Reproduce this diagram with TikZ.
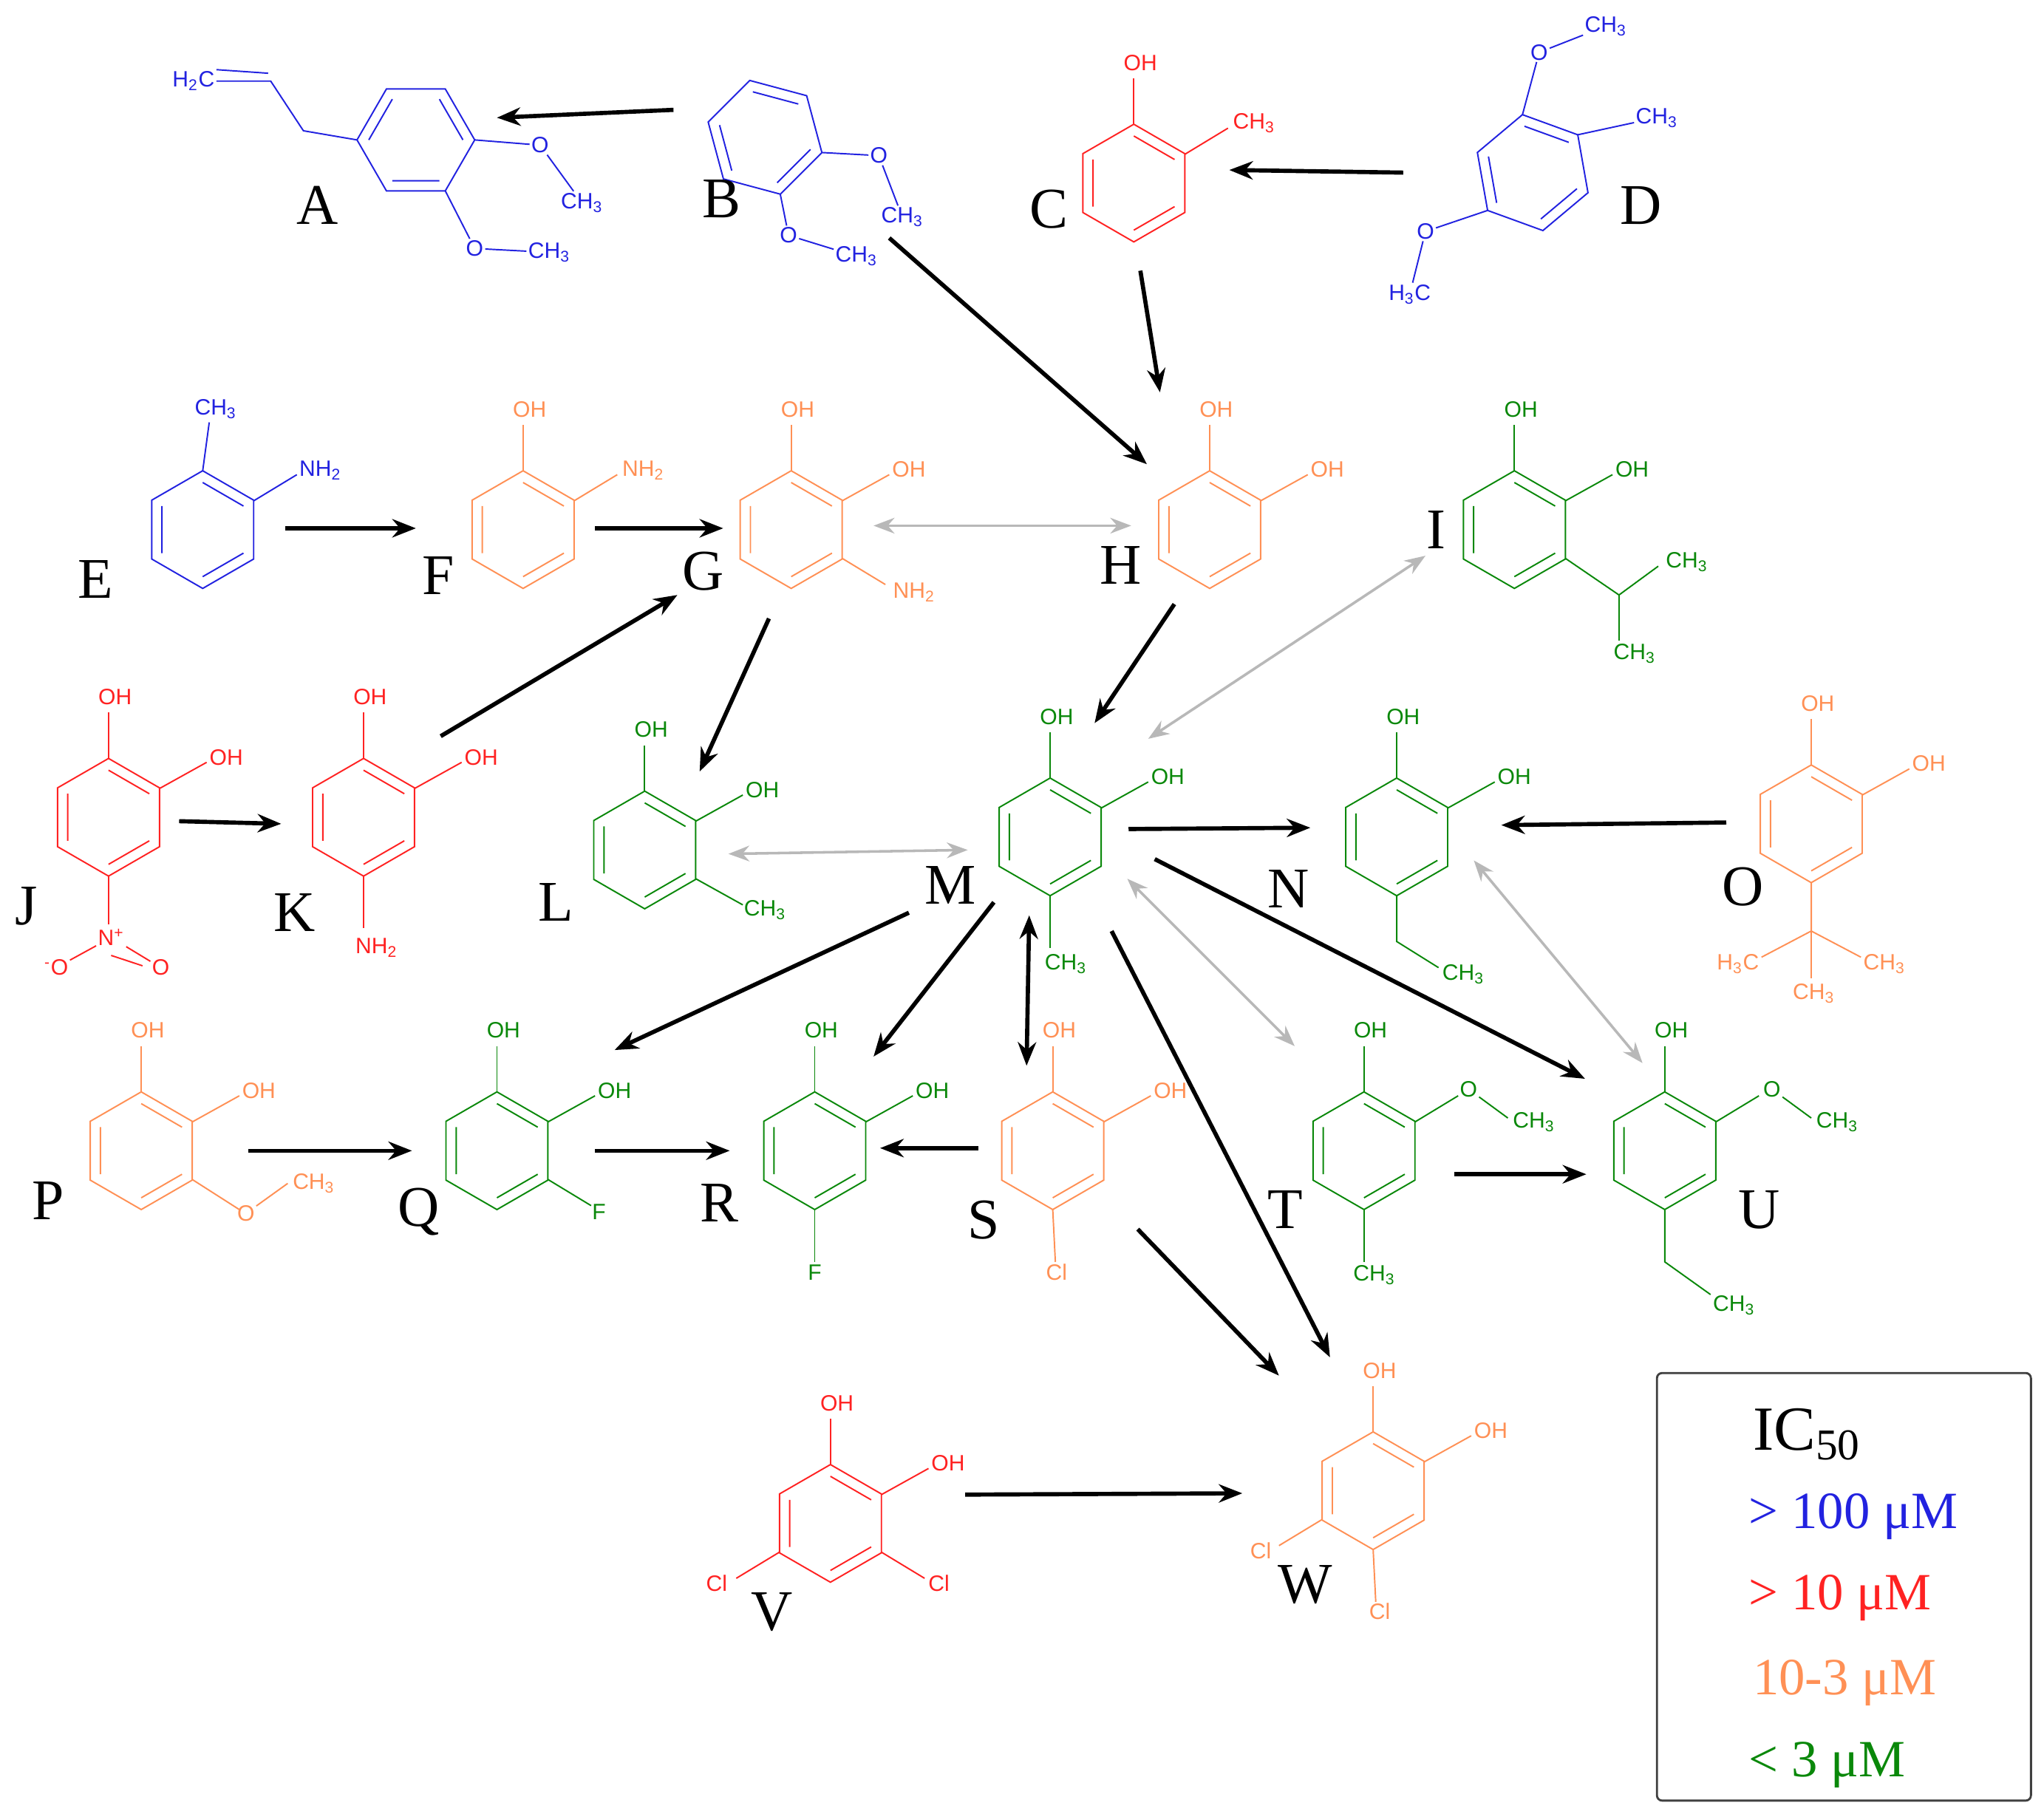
\documentclass[tikz,border=0pt]{standalone}
\usepackage{fontspec}
\setmainfont{Liberation Serif}
\setsansfont{Liberation Sans}
\usetikzlibrary{arrows.meta}
\definecolor{cB}{HTML}{2222E0}
\definecolor{cR}{HTML}{FF2222}
\definecolor{cO}{HTML}{FF9055}
\definecolor{cG}{HTML}{0A880A}
\definecolor{cGr}{HTML}{B8B8B8}
\tikzset{
  lbl/.style={font=\fontsize{22}{24}\selectfont, text=black, inner sep=0pt},
  atm/.style={font=\sffamily\fontsize{8.5}{9}\selectfont, inner sep=0.5pt},
  bond/.style={line width=0.55pt},
  arr/.style={line width=1.6pt, black, -{Stealth[length=9pt,width=7pt]}},
  darr/.style={line width=1.6pt, black, {Stealth[length=9pt,width=7pt]}-{Stealth[length=9pt,width=7pt]}},
  garr/.style={line width=1pt, cGr, {Stealth[length=8pt,width=6pt]}-{Stealth[length=8pt,width=6pt]}},
  leg/.style={font=\fontsize{20}{22}\selectfont, inner sep=0pt, anchor=west}
}
\newcommand\benz[1][0]{%
  \draw[bond] (-90+#1:45)--(-30+#1:45)--(30+#1:45)--(90+#1:45)--(150+#1:45)--(210+#1:45)--cycle;
  \draw[bond] (-90+#1:36)--(-30+#1:36) (30+#1:36)--(90+#1:36) (150+#1:36)--(210+#1:36);}
\newcommand\CH{CH\textsubscript{3}}
\newcommand\OHtop[1]{\draw[bond] (0,-45)--(0,-80); \node[atm] (#1t) at (5,-92) {OH};}
\newcommand\OHright[1]{\draw[bond] (39,-22)--(75,-42); \node[atm] (#1r) at (90,-46) {OH};}
\begin{document}
\begin{tikzpicture}[x=0.5pt,y=-0.5pt]
\useasboundingbox (0,0) rectangle (1563,1387);
% ---------- A
\begin{scope}[shift={(318,107)}, cB, draw=cB]
  \benz[30]
  \coordinate (A0) at (0:45); \coordinate (A1) at (60:45); \coordinate (A3) at (180:45);
\end{scope}
\begin{scope}[cB]
\node[atm] (Ah) at (148,62) {H\textsubscript{2}C};
\draw[bond] (A3) -- (232,100) -- (207,62) -- (Ah);
\draw[bond] (205,56) -- (Ah.north east);
\node[atm] (Ao1) at (413,111) {O};
\node[atm] (Am1) at (445,155) {\CH};
\draw[bond] (A0) -- (Ao1) -- (Am1);
\node[atm] (Ao2) at (363,190) {O};
\node[atm] (Am2) at (420,193) {\CH};
\draw[bond] (A1) -- (Ao2) -- (Am2);
\end{scope}
\node[lbl] (LA) at (243,157) {A};
% ---------- B
\begin{scope}[shift={(585,105)}, cB, draw=cB]
  \benz[-15]
  \coordinate (B1) at (15:45); \coordinate (B2) at (75:45);
\end{scope}
\begin{scope}[cB]
\node[atm] (Bo1) at (672,119) {O}; \node[atm] (Bm1) at (690,166) {\CH};
\draw[bond] (B1) -- (Bo1) -- (Bm1);
\node[atm] (Bo2) at (603,180) {O}; \node[atm] (Bm2) at (655,196) {\CH};
\draw[bond] (B2) -- (Bo2) -- (Bm2);
\end{scope}
\node[lbl] (LB) at (552,152) {B};
% ---------- C
\begin{scope}[shift={(867,140)}, cR, draw=cR]
  \benz \OHtop{C}
  \draw[bond] (39,-22)--(72,-42); \node[atm] at (92,-46) {\CH};
\end{scope}
\node[lbl] (LC) at (802,160) {C};
% ---------- D
\begin{scope}[shift={(1172,132)}, cB, draw=cB]
  \benz[-10]
  \coordinate (D0) at (-100:45); \coordinate (D1) at (-40:45); \coordinate (D4) at (140:45);
\end{scope}
\begin{scope}[cB]
\node[atm] (Do1) at (1177,40) {O}; \node[atm] (Dm1) at (1228,20) {\CH};
\draw[bond] (D0) -- (Do1) -- (Dm1);
\node[atm] (Dm2) at (1267,90) {\CH}; \draw[bond] (D1) -- (Dm2);
\node[atm] (Do2) at (1090,177) {O}; \node[atm] (Dm3) at (1078,225) {H\textsubscript{3}C};
\draw[bond] (D4) -- (Do2) -- (Dm3);
\end{scope}
\node[lbl] (LD) at (1255,157) {D};
% ---------- E
\begin{scope}[shift={(155,405)}, cB, draw=cB]
  \benz
  \draw[bond] (0,-45)--(5,-82); \node[atm] at (10,-92) {\CH};
  \draw[bond] (39,-22)--(72,-42); \node[atm] at (90,-45) {NH\textsubscript{2}};
\end{scope}
\node[lbl] (LE) at (73,443) {E};
% ---------- F
\begin{scope}[shift={(400,405)}, cO, draw=cO]
  \benz \OHtop{F}
  \draw[bond] (39,-22)--(72,-42); \node[atm] at (92,-45) {NH\textsubscript{2}};
\end{scope}
\node[lbl] (LF) at (335,440) {F};
% ---------- G
\begin{scope}[shift={(605,405)}, cO, draw=cO]
  \benz \OHtop{G} \OHright{G}
  \draw[bond] (39,22)--(72,42); \node[atm] at (94,48) {NH\textsubscript{2}};
\end{scope}
\node[lbl] (LG) at (538,437) {G};
% ---------- H
\begin{scope}[shift={(925,405)}, cO, draw=cO]
  \benz \OHtop{H} \OHright{H}
\end{scope}
\node[lbl] (LH) at (857,432) {H};
% ---------- I
\begin{scope}[shift={(1158,405)}, cG, draw=cG]
  \benz \OHtop{I} \OHright{I}
  \draw[bond] (39,22)--(80,50)--(110,28); \node[atm] at (132,25) {\CH};
  \draw[bond] (80,50)--(80,85); \node[atm] at (92,95) {\CH};
\end{scope}
\node[lbl] (LI) at (1098,405) {I};
% ---------- J
\begin{scope}[shift={(83,625)}, cR, draw=cR]
  \benz \OHtop{J} \OHright{J}
  \draw[bond] (0,45)--(0,82); \node[atm] (Jn) at (2,92) {N\textsuperscript{+}};
  \node[atm] (Jo1) at (-40,115) {\textsuperscript{-}O};
  \node[atm] (Jo2) at (40,115) {O};
  \draw[bond] (Jn) -- (Jo1); \draw[bond] (Jn) -- (Jo2);
  \draw[bond] ([yshift=-3]Jn.south) -- ([xshift=-3,yshift=-3]Jo2.north west);
\end{scope}
\node[lbl] (LJ) at (20,693) {J};
% ---------- K
\begin{scope}[shift={(278,625)}, cR, draw=cR]
  \benz \OHtop{K} \OHright{K}
  \draw[bond] (0,45)--(0,85); \node[atm] at (10,100) {NH\textsubscript{2}};
\end{scope}
\node[lbl] (LK) at (225,698) {K};
% ---------- L
\begin{scope}[shift={(493,650)}, cG, draw=cG]
  \benz \OHtop{L} \OHright{L}
  \draw[bond] (39,22)--(75,42); \node[atm] at (92,46) {\CH};
\end{scope}
\node[lbl] (LL) at (425,690) {L};
% ---------- M
\begin{scope}[shift={(803,640)}, cG, draw=cG]
  \benz \OHtop{M} \OHright{M}
  \draw[bond] (0,45)--(0,85); \node[atm] at (12,97) {\CH};
\end{scope}
\node[lbl] (LM) at (727,677) {M};
% ---------- N
\begin{scope}[shift={(1068,640)}, cG, draw=cG]
  \benz \OHtop{N} \OHright{N}
  \draw[bond] (0,45)--(0,80)--(32,100); \node[atm] at (51,105) {\CH};
\end{scope}
\node[lbl] (LN) at (985,680) {N};
% ---------- O
\begin{scope}[shift={(1385,630)}, cO, draw=cO]
  \benz \OHtop{O} \OHright{O}
  \draw[bond] (0,45)--(0,82)--(-38,102); \node[atm] at (-56,107) {H\textsubscript{3}C};
  \draw[bond] (0,82)--(38,102); \node[atm] at (56,107) {\CH};
  \draw[bond] (0,82)--(0,118); \node[atm] at (2,130) {\CH};
\end{scope}
\node[lbl] (LO) at (1333,678) {O};
% ---------- P
\begin{scope}[shift={(108,880)}, cO, draw=cO]
  \benz \OHtop{P} \OHright{P}
  \draw[bond] (39,22)--(75,45); \node[atm] (Po) at (80,48) {O};
  \draw[bond] (Po)--(112,25); \node[atm] at (132,25) {\CH};
\end{scope}
\node[lbl] (LP) at (37,918) {P};
% ---------- Q
\begin{scope}[shift={(380,880)}, cG, draw=cG]
  \benz \OHtop{Q} \OHright{Q}
  \draw[bond] (39,22)--(72,42); \node[atm] at (78,47) {F};
\end{scope}
\node[lbl] (LQ) at (320,927) {Q};
% ---------- R
\begin{scope}[shift={(623,880)}, cG, draw=cG]
  \benz \OHtop{R} \OHright{R}
  \draw[bond] (0,45)--(0,85); \node[atm] at (0,93) {F};
\end{scope}
\node[lbl] (LR) at (550,920) {R};
% ---------- S
\begin{scope}[shift={(805,880)}, cO, draw=cO]
  \benz \OHtop{S} \OHright{S}
  \draw[bond] (0,45)--(2,85); \node[atm] at (3,93) {Cl};
\end{scope}
\node[lbl] (LS) at (752,933) {S};
% ---------- T
\begin{scope}[shift={(1043,880)}, cG, draw=cG]
  \benz \OHtop{T}
  \draw[bond] (39,-22)--(72,-42); \node[atm] (To) at (80,-47) {O};
  \draw[bond] (To)--(110,-25); \node[atm] at (130,-22) {\CH};
  \draw[bond] (0,45)--(0,85); \node[atm] at (8,95) {\CH};
\end{scope}
\node[lbl] (LT) at (983,925) {T};
% ---------- U
\begin{scope}[shift={(1273,880)}, cG, draw=cG]
  \benz \OHtop{U}
  \draw[bond] (39,-22)--(72,-42); \node[atm] (Uo) at (82,-47) {O};
  \draw[bond] (Uo)--(112,-25); \node[atm] at (132,-22) {\CH};
  \draw[bond] (0,45)--(0,85)--(35,110); \node[atm] at (53,118) {\CH};
\end{scope}
\node[lbl] (LU) at (1345,925) {U};
% ---------- V
\begin{scope}[shift={(635,1165)}, cR, draw=cR]
  \benz \OHtop{V} \OHright{V}
  \draw[bond] (39,22)--(72,42); \node[atm] at (83,46) {Cl};
  \draw[bond] (-39,22)--(-72,42); \node[atm] at (-87,46) {Cl};
\end{scope}
\node[lbl] (LV) at (590,1233) {V};
% ---------- W
\begin{scope}[shift={(1050,1140)}, cO, draw=cO]
  \benz \OHtop{W} \OHright{W}
  \draw[bond] (-39,22)--(-72,42); \node[atm] at (-86,46) {Cl};
  \draw[bond] (0,45)--(2,85); \node[atm] at (5,92) {Cl};
\end{scope}
\node[lbl] (LW) at (998,1212) {W};
% ---------- arrows
\coordinate (a1s) at (515,84);  \coordinate (a1e) at (380,90);
\coordinate (a2s) at (1073,132); \coordinate (a2e) at (940,130);
\coordinate (a3s) at (872,207); \coordinate (a3e) at (887,300);
\coordinate (a4s) at (680,182); \coordinate (a4e) at (877,355);
\coordinate (a5s) at (218,404); \coordinate (a5e) at (318,404);
\coordinate (a6s) at (455,404); \coordinate (a6e) at (553,404);
\coordinate (a7s) at (337,563); \coordinate (a7e) at (518,455);
\coordinate (a8s) at (137,628); \coordinate (a8e) at (215,630);
\coordinate (a9s) at (588,473); \coordinate (a9e) at (535,590);
\coordinate (b1s) at (898,462); \coordinate (b1e) at (837,553);
\coordinate (b2s) at (863,634); \coordinate (b2e) at (1002,633);
\coordinate (b3s) at (1320,629); \coordinate (b3e) at (1148,631);
\coordinate (b4s) at (695,698); \coordinate (b4e) at (470,803);
\coordinate (b5s) at (760,690); \coordinate (b5e) at (668,808);
\coordinate (b6s) at (787,700); \coordinate (b6e) at (785,815);
\coordinate (b7s) at (883,657); \coordinate (b7e) at (1212,825);
\coordinate (b8s) at (850,712); \coordinate (b8e) at (1017,1038);
\coordinate (b9s) at (870,940); \coordinate (b9e) at (978,1052);
\coordinate (c1s) at (190,880); \coordinate (c1e) at (315,880);
\coordinate (c2s) at (455,880); \coordinate (c2e) at (558,880);
\coordinate (c3s) at (748,878); \coordinate (c3e) at (673,878);
\coordinate (c4s) at (1112,898); \coordinate (c4e) at (1213,898);
\coordinate (c5s) at (738,1143); \coordinate (c5e) at (950,1142);
\foreach \a in {a1,a2,a3,a4,a5,a6,a7,a8,a9,b1,b2,b3,b4,b5,b7,b8,b9,c1,c2,c3,c4,c5}
  \draw[arr] (\a s) -- (\a e);
\draw[darr] (b6s) -- (b6e);
\coordinate (g1s) at (668,402); \coordinate (g1e) at (865,402);
\coordinate (g2s) at (878,565); \coordinate (g2e) at (1090,425);
\coordinate (g3s) at (557,653); \coordinate (g3e) at (740,650);
\coordinate (g4s) at (862,672); \coordinate (g4e) at (990,800);
\coordinate (g5s) at (1127,658); \coordinate (g5e) at (1256,813);
\foreach \g in {g1,g2,g3,g4,g5} \draw[garr] (\g s) -- (\g e);
% ---------- legend
\draw[line width=0.8pt, rounded corners=2pt, black!75] (1267,1050) rectangle (1553,1377);
\node[leg] (k0) at (1340,1097) {\fontsize{24}{26}\selectfont IC\textsubscript{50}};
\node[leg, text=cB] (k1) at (1337,1160) {> 100 μM};
\node[leg, text=cR] (k2) at (1337,1222) {> 10 μM};
\node[leg, text=cO] (k3) at (1340,1287) {10-3 μM};
\node[leg, text=cG] (k4) at (1337,1350) {< 3 μM};
\end{tikzpicture}
\end{document}
